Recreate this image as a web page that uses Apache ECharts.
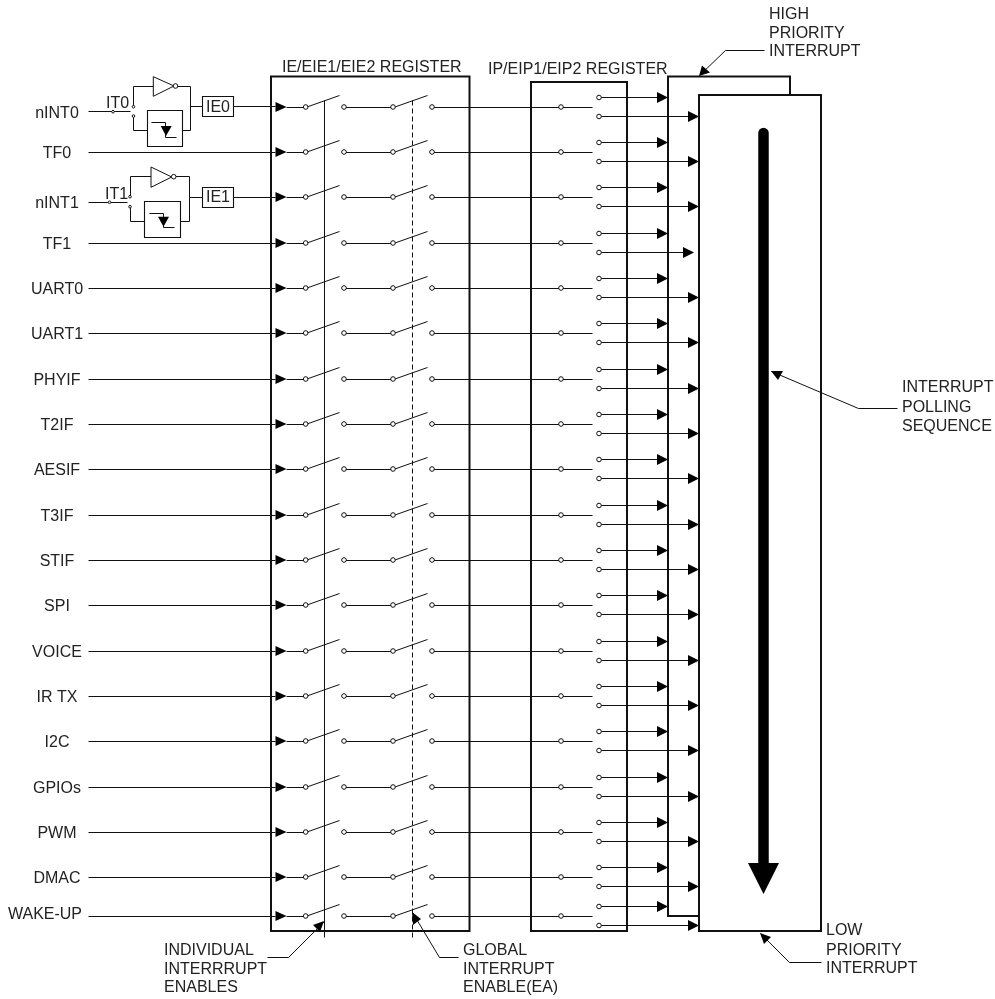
<!DOCTYPE html>
<html><head><meta charset="utf-8">
<style>html,body{margin:0;padding:0;background:#fff}#c{width:995px;height:999px}</style>
<script src="https://cdn.jsdelivr.net/npm/echarts@6/dist/echarts.min.js"></script>
</head><body><div id="c"></div>
<script>
// source names and their row positions on the diagram's y scale
const sources = ['nINT0','TF0','nINT1','TF1','UART0','UART1','PHYIF','T2IF','AESIF','T3IF','STIF','SPI','VOICE','IR TX','I2C','GPIOs','PWM','DMAC','WAKE-UP'];
const rowY = [107,152,197,243,288,333,379,424,469,515,560,605,651,696,741,787,832,877,916];
const labelY = [113.5,153.5,203.5,244.5,289.5,334.5,380.5,425.5,470.5,516.5,561.5,606.5,652.5,697.5,742.5,788.5,833.5,878.5,914.5];
const priorityOffset = 9.5;

// frames: [x0,y0,x1,y1,lineWidth]
const frames = [
  [271,76.5,469.5,931,2],
  [531,82,627,931,2],
  [668,76.5,790,916,2],
  [699,95,821,931,2],
  [202.5,96.5,233.5,116.5,1.1],
  [202.5,187.5,233.5,207.5,1.1],
  [147.5,110.5,182.5,146.5,1.1],
  [144.5,201.5,180.5,237.5,1.1]
];
const gateTriangles = [
  [[153.3,76.7],[153.3,96.3],[174,86]],
  [[151,167],[151,187.3],[171.7,177]]
];
const edgeTriangles = [
  [[160.7,126],[171.7,126],[166,136]],
  [[158,216.7],[169,216.7],[163.5,226.7]]
];
const sideWires = [
  [[88,111.7],[130,111.7]],
  [[133.5,106.7],[133.5,86],[153.3,86]],
  [[177,86],[190.7,86],[190.7,130],[182.3,130]],
  [[190.7,106.7],[202.5,106.7]],
  [[133.5,116],[133.5,130],[147.7,130]],
  [[151.7,122.3],[165,122.3],[165,137],[176,137]],
  [[88,202.3],[127,202.3]],
  [[130,196.7],[130,176.7],[151,176.7]],
  [[175,176.7],[189.3,176.7],[189.3,221.3],[180.7,221.3]],
  [[189.3,197],[202.5,197]],
  [[130,206.7],[130,221.3],[144.7,221.3]],
  [[149,213.3],[163,213.3],[163,227.3],[174.7,227.3]],
  [[233.5,106.7],[275,106.7]],
  [[233.5,197],[275,197]]
];
const leaders = [
  {pts:[[764,50],[725,50],[699,75]], tip:[[699,76],[702,65.5],[710,72.5]]},
  {pts:[[821,962],[789,962],[760,933]], tip:[[760,933],[771,937],[764,944]]},
  {pts:[[897,408],[858,408],[771,371]], tip:[[771,371],[783,371],[778,380]]},
  {pts:[[267,957],[288,957],[324,921]], tip:[[324,921],[320,932],[313,925]]},
  {pts:[[458,957],[439,957],[412,912]], tip:[[412,912],[421,919],[413,925]]}
];
const smallDots = [[113,111.7],[133.5,106.7],[133.5,116],[109.5,202.3],[130,196.7],[130,206.7]];
const bubbles = [[175.5,86],[173.7,176.7]];
const notes = [
  ['IE/EIE1/EIE2 REGISTER',282,67.5],['IP/EIP1/EIP2 REGISTER',488,69.5],
  ['IT0',106,103.5],['IT1',105,194.5],['IE0',206,108],['IE1',206,198],
  ['HIGH',769,15],['PRIORITY',769,33.5],['INTERRUPT',769,52],
  ['LOW',826,931],['PRIORITY',826,950.5],['INTERRUPT',826,969],
  ['INTERRUPT',902,388],['POLLING',902,408],['SEQUENCE',902,426.5],
  ['INDIVIDUAL',164,951],['INTERRRUPT',164,969.5],['ENABLES',164,988],
  ['GLOBAL',463,951],['INTERRUPT',463,969.5],['ENABLE(EA)',463,988]
];
const pollLine = [[763.5,133],[763.5,870]];
const pollHead = [[748,863],[779,863],[763.5,894]];
const individualEnable = [[324.7,100],[324.7,937]];
const globalEnable = [[412,100],[412,937]];

// built from the rows above
const rowWires = [], rowTris = [], rowDots = [];
sources.forEach((name,i)=>{
  const y = rowY[i], hi = y-priorityOffset, lo = y+priorityOffset;
  const loTip = name==='TF1' ? 694 : 699;
  if (name!=='nINT0' && name!=='nINT1') rowWires.push([[88,y],[275,y]]);
  rowWires.push([[286,y],[305.7,y],[339,y-11.7]]);
  rowWires.push([[344,y],[393,y],[427,y-11.7]]);
  rowWires.push([[432,y],[592,y]]);
  rowWires.push([[599,hi],[657,hi]]);
  rowWires.push([[599,lo],[loTip-10,lo]]);
  rowTris.push([[275.5,y-5],[275.5,y+5],[286.5,y]]);
  rowTris.push([[657,hi-5.5],[657,hi+5.5],[668,hi]]);
  rowTris.push([[loTip-11,lo-5.5],[loTip-11,lo+5.5],[loTip,lo]]);
  rowDots.push([305.7,y],[344,y],[393,y],[432,y],[561,y],[599,hi],[599,lo]);
});

const ink = '#111', font = '16px "Liberation Sans", Arial, sans-serif';
const idx = a => a.map((_,i)=>i);
const snap = v => Math.floor(v)+0.5;
function custom(name, arr, draw, z){
  return {type:'custom', name, coordinateSystem:'cartesian2d', data:idx(arr), silent:true, clip:false, z,
    renderItem:(p,api)=>draw(arr[p.dataIndex],api)};
}
const line = (w,dash,cap,color,crisp)=>(pts,api)=>({type:'polyline',shape:{points:pts.map(q=>{
    const c=api.coord(q); return crisp?[snap(c[0]),snap(c[1])]:c;})},
  style:{stroke:color||ink,fill:null,lineWidth:w,lineDash:dash||null,lineCap:cap||'butt',lineJoin:'miter'}});
const solid = (pts,api)=>({type:'polygon',shape:{points:pts.map(q=>api.coord(q))},style:{fill:'#000',stroke:null}});
const outline = (pts,api)=>({type:'polygon',shape:{points:pts.map(q=>api.coord(q))},style:{fill:'#fff',stroke:ink,lineWidth:1}});
const dot = r => (q,api)=>{const c=api.coord(q);return {type:'circle',shape:{cx:c[0],cy:c[1],r},style:{fill:'#fff',stroke:ink,lineWidth:1}};};
const box = (f,api)=>{const a=api.coord([f[0],f[1]]),b=api.coord([f[2],f[3]]);
  return {type:'rect',shape:{x:a[0],y:a[1],width:b[0]-a[0],height:b[1]-a[1]},style:{fill:'#fff',stroke:ink,lineWidth:f[4]}};};
const textAt = align => (t,api)=>{const c=api.coord([t[1],t[2]]);
  return {type:'text',style:{text:t[0],x:c[0],y:c[1],fill:'#222',font,align,verticalAlign:'middle',textAlign:align,textVerticalAlign:'middle'}};};

const sourceLabels = sources.map((s,i)=>[s, s==='WAKE-UP'?45:57, labelY[i]]);

echarts.init(document.getElementById('c'),null,{renderer:'canvas'}).setOption({
  animation:false, backgroundColor:'#fff',
  grid:{left:0,right:0,top:0,bottom:0},
  xAxis:{type:'value',min:0,max:995,show:false},
  yAxis:{type:'value',min:0,max:999,inverse:true,show:false},
  series:[
    custom('frames',frames,box,1),
    custom('enableLine',[individualEnable],line(1,null,null,null,true),2),
    custom('globalLine',[globalEnable],line(1,[5,3],null,null,true),2),
    custom('wires',rowWires.concat(sideWires),line(1,null,null,null,true),3),
    custom('leaders',leaders.map(l=>l.pts),line(1,null,null,null,true),3),
    custom('gates',gateTriangles,outline,4),
    custom('arrows',rowTris.concat(edgeTriangles,leaders.map(l=>l.tip),[pollHead]),solid,5),
    custom('poll',[pollLine],line(10.5,null,'round','#000'),4),
    custom('dots',rowDots.concat(bubbles),dot(2.3),6),
    custom('smallDots',smallDots,dot(1.3),6),
    custom('sourceLabels',sourceLabels,textAt('center'),7),
    custom('notes',notes,textAt('left'),7)
  ]
});
</script></body></html>
